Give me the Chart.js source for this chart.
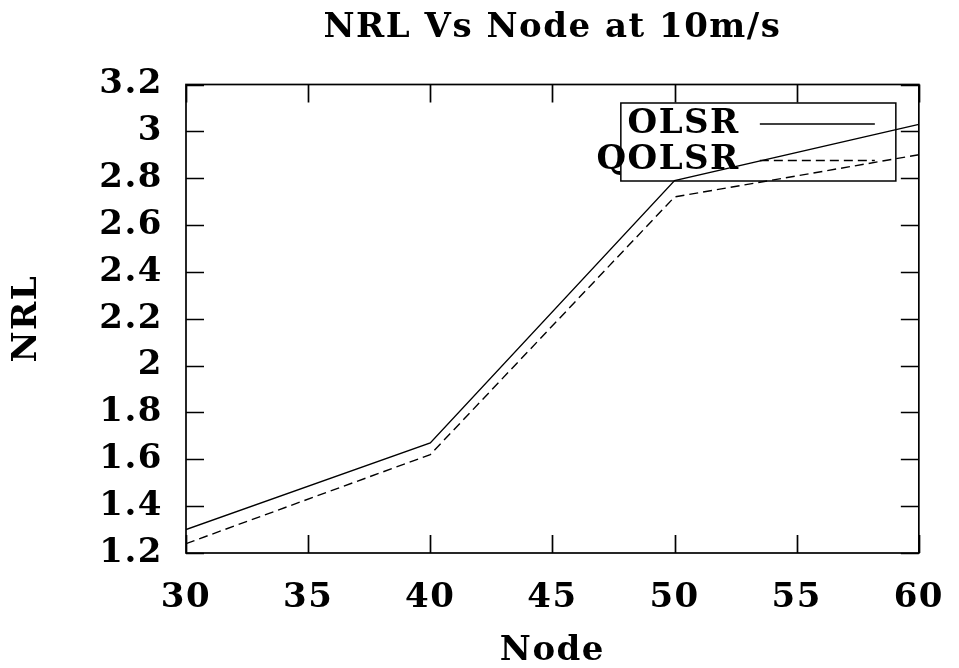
<!DOCTYPE html>
<html>
<head>
<meta charset="utf-8">
<title>NRL Vs Node at 10m/s</title>
<script src="https://cdn.jsdelivr.net/npm/chart.js@4"></script>
<style>
  html, body { margin: 0; padding: 0; background: #fff; }
  #wrap { width: 959px; height: 668px; position: relative; }
</style>
</head>
<body>
<div id="wrap"><canvas id="nrlChart"></canvas></div>
<script>
// Node counts and NRL values per protocol
const nodes = [30, 40, 50, 60];
const olsr = [1.30, 1.67, 2.79, 3.03];
const qolsr = [1.24, 1.62, 2.72, 2.90];

// Axis ticks
const xTicks = [30, 35, 40, 45, 50, 55, 60];
const yTicks = [1.2, 1.4, 1.6, 1.8, 2, 2.2, 2.4, 2.6, 2.8, 3, 3.2];

const TICK_LEN = 18;
const SPACING = '1.5px';
const FONT_SIZE = 34;

Chart.defaults.font.family = '"DejaVu Serif", serif';
Chart.defaults.font.weight = 'bold';
Chart.defaults.font.size = FONT_SIZE;
Chart.defaults.color = '#000';

// box around the plot, inward tick marks on all four sides, and the key
const frameAndKey = {
    id: 'frameAndKey',
    beforeDraw(chart) {
        chart.ctx.letterSpacing = SPACING;
        // centre the title over the plot area rather than the whole canvas
        const tb = chart.titleBlock;
        if (tb && !tb._centred) {
            const draw = tb.draw.bind(tb);
            tb.draw = function () {
                const a = chart.chartArea;
                chart.ctx.save();
                chart.ctx.translate((a.left + a.right) / 2 - (tb.left + tb.right) / 2, 0);
                draw();
                chart.ctx.restore();
            };
            tb._centred = true;
        }
    },
    afterDatasetsDraw(chart) {
        const { ctx, chartArea: a, scales } = chart;
        ctx.save();
        ctx.strokeStyle = '#000';
        ctx.lineWidth = 1.7;
        ctx.setLineDash([]);
        ctx.strokeRect(a.left, a.top, a.right - a.left, a.bottom - a.top);

        ctx.beginPath();
        xTicks.forEach(v => {
            const px = Math.round(scales.x.getPixelForValue(v)) + 0.5;
            ctx.moveTo(px, a.bottom); ctx.lineTo(px, a.bottom - TICK_LEN);
            ctx.moveTo(px, a.top); ctx.lineTo(px, a.top + TICK_LEN);
        });
        yTicks.forEach(v => {
            const py = Math.round(scales.y.getPixelForValue(v)) + 0.5;
            ctx.moveTo(a.left, py); ctx.lineTo(a.left + TICK_LEN, py);
            ctx.moveTo(a.right, py); ctx.lineTo(a.right - TICK_LEN, py);
        });
        ctx.stroke();

        // key: label right-aligned, line sample to its right
        const kx = a.right - 298, ky = a.top + 18.5;
        ctx.lineWidth = 1.5;
        ctx.strokeRect(kx, ky, 275, 78);
        ctx.font = 'bold ' + FONT_SIZE + 'px "DejaVu Serif", serif';
        ctx.fillStyle = '#000';
        ctx.textAlign = 'right';
        ctx.textBaseline = 'middle';
        chart.data.datasets.forEach((ds, i) => {
            const y = ky + 21 + i * 36.5;
            ctx.fillText(ds.label, kx + 119, y);
            ctx.setLineDash(ds.borderDash || []);
            ctx.lineWidth = ds.borderWidth;
            ctx.beginPath();
            ctx.moveTo(kx + 139, y);
            ctx.lineTo(kx + 254, y);
            ctx.stroke();
        });
        ctx.restore();
    }
};

window.onload = function () {
    const ctx = document.getElementById('nrlChart').getContext('2d');
    new Chart(ctx, {
        type: 'line',
        data: {
            datasets: [
                {
                    label: 'OLSR',
                    data: nodes.map((n, i) => ({ x: n, y: olsr[i] })),
                    borderColor: '#000',
                    borderWidth: 1.4,
                    pointRadius: 0,
                    tension: 0
                },
                {
                    label: 'QOLSR',
                    data: nodes.map((n, i) => ({ x: n, y: qolsr[i] })),
                    borderColor: '#000',
                    borderWidth: 1.4,
                    borderDash: [9, 5],
                    pointRadius: 0,
                    tension: 0
                }
            ]
        },
        options: {
            responsive: true,
            maintainAspectRatio: false,
            animation: false,
            layout: { padding: { left: 0, right: 37, top: 0, bottom: 0 } },
            plugins: {
                legend: { display: false },
                tooltip: { enabled: false },
                title: {
                    display: true,
                    text: 'NRL Vs Node at 10m/s',
                    color: '#000',
                    font: { size: FONT_SIZE, weight: 'bold', lineHeight: 1 },
                    padding: { top: 11, bottom: 39.5 }
                }
            },
            scales: {
                x: {
                    type: 'linear',
                    min: 30,
                    max: 60,
                    afterBuildTicks: s => { s.ticks = xTicks.map(v => ({ value: v })); },
                    afterFit: s => { s.height = 115; },
                    grid: { display: false },
                    border: { display: false },
                    ticks: { padding: 16.5, maxRotation: 0, autoSkip: false, callback: v => String(v) },
                    title: {
                        display: true,
                        text: 'Node',
                        font: { size: FONT_SIZE, weight: 'bold', lineHeight: 1 },
                        padding: { top: 0, bottom: 0 }
                    }
                },
                y: {
                    min: 1.2,
                    max: 3.2,
                    afterBuildTicks: s => { s.ticks = yTicks.map(v => ({ value: v })); },
                    afterFit: s => { s.width = 186; },
                    grid: { display: false },
                    border: { display: false },
                    ticks: { padding: 15, autoSkip: false, callback: v => String(v) },
                    title: {
                        display: true,
                        text: 'NRL',
                        font: { size: FONT_SIZE, weight: 'bold', lineHeight: 1 },
                        padding: { top: 10, bottom: 0 }
                    }
                }
            }
        },
        plugins: [frameAndKey]
    });
};
</script>
</body>
</html>
